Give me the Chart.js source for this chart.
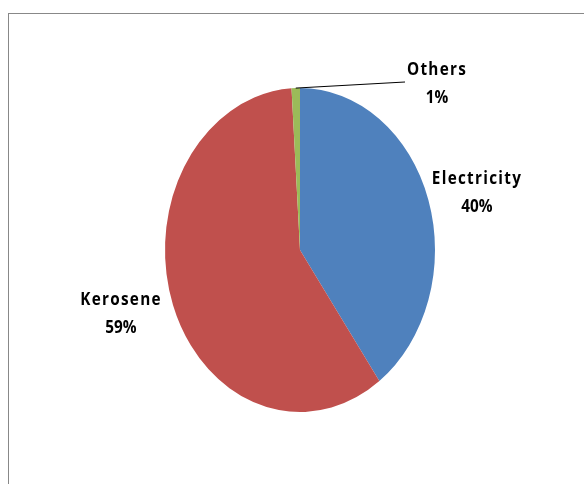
<!DOCTYPE html>
<html>
<head>
<meta charset="utf-8">
<script src="https://cdn.jsdelivr.net/npm/chart.js@4"></script>
<style>
html,body{margin:0;padding:0;background:#fff;overflow:hidden;}
#frame{position:absolute;left:8px;top:13px;width:640px;height:540px;border:1px solid #888;}
#wrap{position:absolute;left:0;top:0;width:584px;height:484px;}
</style>
</head>
<body>
<div id="frame"></div>
<div id="wrap"><canvas id="fuelChart" width="584" height="484"></canvas></div>
<script>
// FUEL SHARE PIE

const categories = ["Electricity", "Kerosene", "Others"];
const shares = [40, 59, 1];
const sliceColors = ["#4F81BD", "#C0504D", "#9BBB59"];

// label text centres, and where the Others leader line ends
const labelSpots = [{x: 477, y: 193}, {x: 121, y: 314}, {x: 437, y: 84}];
const leaderEnd = {x: 405, y: 82};

// the pie is drawn a little taller than wide
const stretchY = 1.2;
// labels use a squeezed bold face
const squeezeX = 0.85;

const ovalPie = {
  id: "ovalPie",
  beforeDatasetsDraw(chart) {
    const arc = chart.getDatasetMeta(0).data[0];
    const ctx = chart.ctx;
    ctx.save();
    ctx.translate(arc.x, arc.y);
    ctx.scale(1, stretchY);
    ctx.translate(-arc.x, -arc.y);
  },
  afterDatasetsDraw(chart) {
    chart.ctx.restore();
  },
  afterDraw(chart) {
    const ctx = chart.ctx;
    const meta = chart.getDatasetMeta(0);
    const total = shares.reduce((a, b) => a + b, 0);
    meta.data.forEach((arc, i) => {
      const spot = labelSpots[i];
      const pct = Math.round(shares[i] / total * 100) + "%";

      if (i === 2) {
        const mid = (arc.startAngle + arc.endAngle) / 2;
        const px = arc.x + arc.outerRadius * Math.cos(mid);
        const py = arc.y + arc.outerRadius * Math.sin(mid) * stretchY;
        ctx.save();
        ctx.strokeStyle = "#000";
        ctx.lineWidth = 1;
        ctx.beginPath();
        ctx.moveTo(px, py);
        ctx.lineTo(leaderEnd.x, leaderEnd.y);
        ctx.stroke();
        ctx.restore();
      }

      ctx.save();
      ctx.translate(spot.x, spot.y);
      ctx.scale(squeezeX, 1);
      ctx.fillStyle = "#000";
      ctx.textAlign = "center";
      ctx.textBaseline = "middle";
      ctx.font = 'bold 18px "Liberation Sans Narrow", "Open Sans", sans-serif';
      ctx.letterSpacing = "1.5px";
      ctx.fillText(categories[i], 0, -14);
      ctx.letterSpacing = "0px";
      ctx.fillText(pct, 0, 14);
      ctx.restore();
    });
  }
};

const fuelChart = document.getElementById("fuelChart");

new Chart(fuelChart, {
  type: "pie",
  data: {
    labels: categories,
    datasets: [{
      data: shares,
      backgroundColor: sliceColors,
      borderWidth: 0
    }]
  },
  options: {
    responsive: false,
    animation: false,
    layout: {
      padding: {left: 100, right: 84, top: 115, bottom: 99}
    },
    plugins: {
      legend: {display: false},
      tooltip: {enabled: false}
    }
  },
  plugins: [ovalPie]
});
</script>
</body>
</html>
